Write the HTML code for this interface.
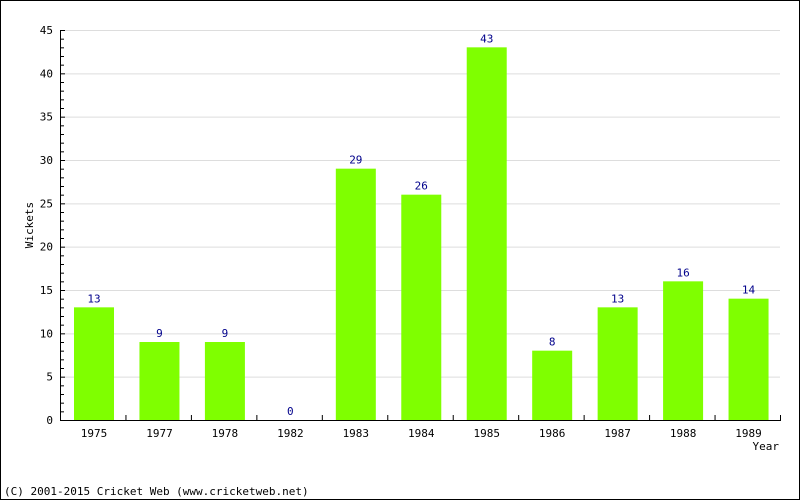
<!DOCTYPE html>
<html><head><meta charset="utf-8"><style>
body{margin:0;background:#fff}
svg{display:block;font-family:"DejaVu Sans Mono","Liberation Mono",monospace}
</style></head><body>
<svg id="c" width="800" height="500" viewBox="0 0 800 500">
<rect x="0.5" y="0.5" width="799" height="499" fill="#fff" stroke="#000"/>
<g id="grid"></g><g id="bars"></g><g id="axes"></g>
<text x="33" y="225" font-size="11" text-anchor="middle" transform="rotate(-90 33 225)">Wickets</text>
<text x="779" y="450" font-size="11" text-anchor="end">Year</text>
<text x="4" y="495" font-size="11">(C) 2001-2015 Cricket Web (www.cricketweb.net)</text>
</svg>
<script>
const categories=["1975","1977","1978","1982","1983","1984","1985","1986","1987","1988","1989"];
const values=[13,9,9,0,29,26,43,8,13,16,14];
const yTicks=[0,5,10,15,20,25,30,35,40,45];
const L=60,R=780,T=30,B=420,yMax=45;
const cw=(R-L)/categories.length;
const y=v=>B-(v/yMax)*(B-T);
const xs=i=>L+i*cw;
const NS="http://www.w3.org/2000/svg";
function mk(tag,attrs,parent){const e=document.createElementNS(NS,tag);for(const k in attrs)e.setAttribute(k,attrs[k]);parent.appendChild(e);return e;}
const G=document.getElementById('grid'),Bg=document.getElementById('bars'),A=document.getElementById('axes');
yTicks.forEach(t=>{
  if(t>0){const g=mk('line',{x1:L,x2:R,y1:y(t)+0.5,y2:y(t)+0.5,stroke:'#ddd'},G);
  
  }
  const tx=mk('text',{x:L-7,y:y(t)+4,'font-size':11,'text-anchor':'end'},A);tx.textContent=t;
  
  
});
for(let v=0;v<=yMax;v+=1){const m=mk('line',{x1:L,x2:(v%5===0?L+5:L+4),y1:y(v)+0.5,y2:y(v)+0.5,stroke:'#000'},A);
  
  }
categories.forEach((c,i)=>{
  const x0=xs(i)+14,v=values[i];
  if(v>0){const r=mk('rect',{x:x0,y:y(v),width:40,height:B-y(v),fill:'#7fff00'},Bg);
  
  }
  const vl=mk('text',{x:x0+20,y:y(v)-5,'font-size':11,'text-anchor':'middle',fill:'#00008b'},Bg);vl.textContent=v;
  
  
  const xl=mk('text',{x:x0+20,y:B+17,'font-size':11,'text-anchor':'middle'},A);xl.textContent=c;
  
  
  const tk=mk('line',{x1:xs(i+1)+0.5,x2:xs(i+1)+0.5,y1:B-5,y2:B,stroke:'#000'},A);
  
  
});
const ya=mk('line',{x1:L+0.5,x2:L+0.5,y1:T,y2:B+1,stroke:'#000'},A);


const xa=mk('line',{x1:L,x2:R+1,y1:B+0.5,y2:B+0.5,stroke:'#000'},A);


</script>
</body></html>
